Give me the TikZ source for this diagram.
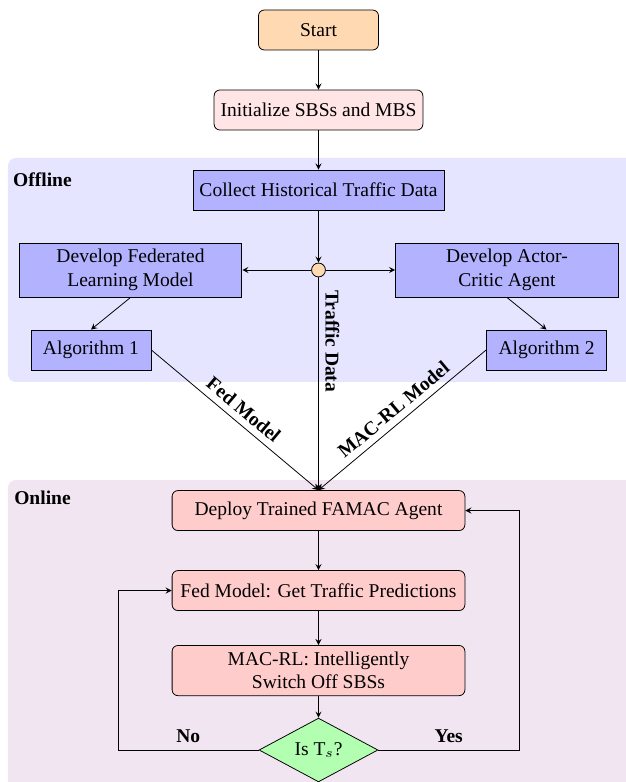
\documentclass[tikz,border=0pt]{standalone}
\usepackage{fontspec}
\setmainfont{Liberation Serif}
\usetikzlibrary{shapes.geometric}

\begin{document}
\begin{tikzpicture}[
    text=black,
    >={stealth},
    startbox/.style={rectangle, rounded corners=3pt, draw=black, fill=orange!30, minimum width=2.16cm, minimum height=0.72cm},
    initbox/.style={rectangle, rounded corners=3pt, draw=black, fill=red!10, minimum width=3.73cm, minimum height=0.72cm},
    offbox/.style={rectangle, draw=black, fill=blue!30, minimum height=0.72cm, align=center},
    onbox/.style={rectangle, rounded corners=3pt, draw=black, fill=red!20, minimum width=5.27cm, minimum height=0.72cm, align=center},
    decision/.style={diamond, draw=black, fill=green!30, minimum width=2.14cm, minimum height=0.99cm, inner sep=0pt},
    hub/.style={circle, draw=black, fill=orange!30, minimum size=0.25cm, inner sep=0pt},
    phaselabel/.style={anchor=west, font=\bfseries},
    edgelabel/.style={font=\bfseries},
]

\useasboundingbox (-5.733,0) rectangle (5.517,-14.076);

% ==================== BACKGROUNDS ====================
\fill[blue!10, rounded corners=4pt] (-5.589,-2.844) rectangle (5.787,-6.876);
\fill[violet!10, rounded corners=4pt] (-5.589,-8.64) rectangle (5.787,-14.31);

\node[phaselabel] (offlinelbl) at (-5.62,-3.24) {Offline};
\node[phaselabel] (onlinelbl) at (-5.6,-8.964) {Online};

% ==================== TOP ====================
\node[startbox] (start) at (0,-0.54) {Start};
\node[initbox] (init) at (0,-1.98) {Initialize SBSs and MBS};

\draw[->] (start) -- (init);

% ==================== OFFLINE ====================
\node[offbox, minimum width=4.48cm] (collect) at (0,-3.42) {Collect Historical Traffic Data};
\node[hub] (split) at (0,-4.86) {};

\node[offbox, minimum width=4.01cm, minimum height=0.92cm] (devfed) at (-3.384,-4.86) {Develop Federated\\Learning Model};
\node[offbox, minimum width=4.01cm, minimum height=0.92cm] (devac)  at (3.393,-4.86)  {Develop Actor-\\Critic Agent};

\node[offbox, minimum width=2.16cm] (algone) at (-4.095,-6.3) {Algorithm 1};
\node[offbox, minimum width=2.16cm] (algtwo) at (4.104,-6.3)  {Algorithm 2};

\draw[->] (init) -- (collect);
\draw[->] (collect) -- (split);
\draw[->] (split) -- (devfed.east);
\draw[->] (split) -- (devac.west);
\draw[->] (devfed.south) -- (algone.north);
\draw[->] (devac.south) -- (algtwo.north);

% ==================== ONLINE ====================
\node[onbox] (deploy) at (0,-9.19) {Deploy Trained FAMAC Agent};
\node[onbox] (predict) at (0,-10.63) {Fed Model: Get Traffic Predictions};
\node[onbox, minimum height=0.85cm] (switchoff) at (0,-12.07) {MAC-RL: Intelligently\\Switch Off SBSs};
\node[decision] (check) at (0,-13.5) {Is T$_s$?};

% Models handed over to the online phase
\draw[->] (algone.east) -- node[midway, above, sloped, edgelabel] {Fed Model} (deploy.north);
\draw[->] (algtwo.west) -- node[midway, above, sloped, edgelabel] {MAC-RL Model} (deploy.north);
\draw[->] (split) -- node[pos=0.3, rotate=-90, anchor=south, edgelabel] {Traffic Data} (deploy.north);

\draw[->] (deploy) -- (predict);
\draw[->] (predict) -- (switchoff);
\draw[->] (switchoff) -- (check);

% Loops back
\coordinate (nocorner) at (-3.61,-13.5);
\coordinate (yescorner) at (3.61,-13.5);
\draw[->] (check.west) -- node[midway, above, edgelabel] {No} (nocorner) |- (predict.west);
\draw[->] (check.east) -- node[midway, above, edgelabel] {Yes} (yescorner) |- (deploy.east);

\end{tikzpicture}
\end{document}
